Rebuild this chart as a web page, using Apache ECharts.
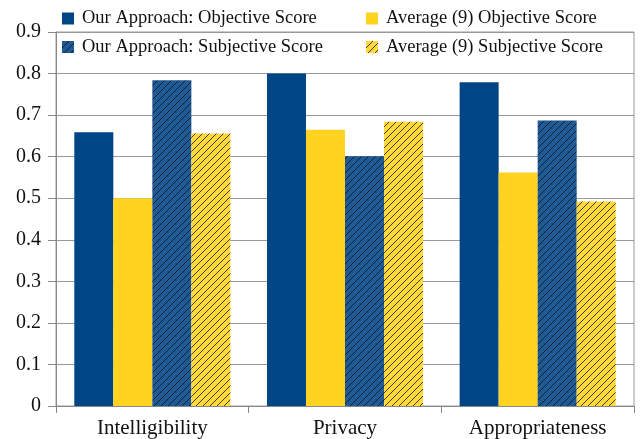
<!DOCTYPE html>
<html><head><meta charset="utf-8">
<script src="https://cdn.jsdelivr.net/npm/echarts@6/dist/echarts.min.js"></script>
<style>html,body{margin:0;padding:0;background:#fff}#c{width:641px;height:439px}</style>
</head><body><div id="c"></div>
<script>
const categories = ['Intelligibility', 'Privacy', 'Appropriateness'];
const seriesNames = ['Our Approach: Objective Score', 'Average (9) Objective Score', 'Our Approach: Subjective Score', 'Average (9) Subjective Score'];
const ourObjective = [0.659, 0.800, 0.779];
const avgObjective = [0.500, 0.665, 0.562];
const ourSubjective = [0.784, 0.601, 0.687];
const avgSubjective = [0.656, 0.684, 0.492];
const yMin = 0, yMax = 0.9, yStep = 0.1;

function hatch(base) {
  const c = document.createElement('canvas');
  c.width = 7; c.height = 7;
  const g = c.getContext('2d');
  g.fillStyle = base; g.fillRect(0, 0, 7, 7);
  g.strokeStyle = 'rgba(20,20,20,0.8)'; g.lineWidth = 1;
  g.beginPath();
  g.moveTo(-1, 8); g.lineTo(8, -1);
  g.moveTo(-1, 1); g.lineTo(1, -1);
  g.moveTo(6, 8); g.lineTo(8, 6);
  g.stroke();
  return { image: c, repeat: 'repeat' };
}
const BLUE = '#004586', YELLOW = '#FFD320';
const colors = [BLUE, YELLOW, hatch('#1E5A96'), hatch('#FFD83A')];
const values = [ourObjective, avgObjective, ourSubjective, avgSubjective];
const font = '"Liberation Serif", "DejaVu Serif", serif';

const chart = echarts.init(document.getElementById('c'), null, { renderer: 'canvas' });
const legendCommon = {
  orient: 'vertical', itemWidth: 12, itemHeight: 12, itemGap: 9.5, top: 9, padding: 0,
  icon: 'rect', selectedMode: false,
  textStyle: { fontFamily: font, fontSize: 18.5, color: '#111', lineHeight: 18, padding: [0, 0, 0, 3] }
};
chart.setOption({
  animation: false,
  legend: [
    Object.assign({ left: 62, data: [seriesNames[0], seriesNames[2]] }, legendCommon),
    Object.assign({ left: 366, data: [seriesNames[1], seriesNames[3]] }, legendCommon)
  ],
  grid: { left: 56, right: 7, top: 32, bottom: 33, show: true, borderColor: '#9a9a9a', borderWidth: 1 },
  xAxis: {
    type: 'category', data: categories,
    axisLine: { lineStyle: { color: '#888', width: 1 } },
    axisTick: { show: true, inside: false, length: 7, lineStyle: { color: '#888' } },
    axisLabel: { fontFamily: font, fontSize: 21, color: '#111', margin: 12 },
    splitLine: { show: false }
  },
  yAxis: {
    type: 'value', min: yMin, max: yMax, interval: yStep,
    axisLine: { show: true, lineStyle: { color: '#888', width: 1 } },
    axisTick: { show: true, length: 8, lineStyle: { color: '#888' } },
    axisLabel: { fontFamily: font, fontSize: 20, color: '#111', margin: 15, formatter: v => String(+v.toFixed(1)) },
    splitLine: { show: true, lineStyle: { color: '#999', width: 1 } }
  },
  series: seriesNames.map((n, i) => ({
    name: n, type: 'bar', data: values[i], barGap: '0%', barCategoryGap: '19%',
    itemStyle: { color: colors[i] }
  }))
});
</script></body></html>
